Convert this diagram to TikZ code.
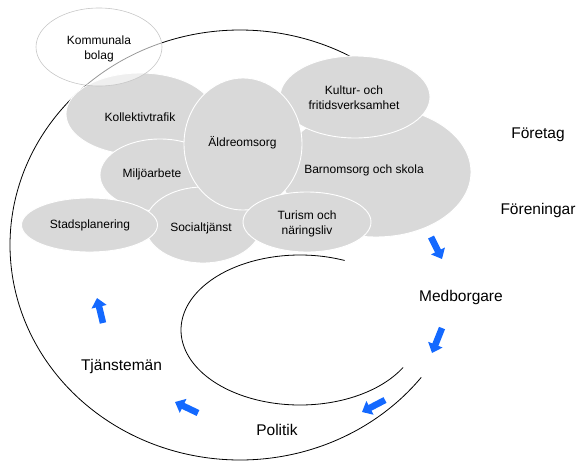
\documentclass[tikz,border=0pt]{standalone}
\usepackage{fontspec}
\setmainfont{Liberation Sans}
\usetikzlibrary{arrows.meta}
\definecolor{blobgray}{HTML}{D9D9D9}
\definecolor{arrowblue}{HTML}{1469FF}
\tikzset{
  blob/.style={ellipse-ish},
  ellipse-ish/.style={fill=blobgray, draw=white, line width=0.9pt},
  smalltext/.style={font=\fontsize{12}{15}\selectfont, align=center, inner sep=0pt},
  bigtext/.style={font=\fontsize{15.5}{18}\selectfont, inner sep=0pt},
  blockarrow/.style={draw=arrowblue, line width=6.5pt, -{Triangle[length=9pt,width=15pt]}},
  spiral/.style={draw=black, line width=0.8pt}
}
\begin{document}
\begin{tikzpicture}[x=1pt,y=-1pt]
\useasboundingbox (0,0) rectangle (578,461);
% spiral curves
\draw[spiral] plot[domain=38:318, samples=160, smooth] ({240+230*cos(\x)}, {245+215*sin(\x)});
\draw[spiral] plot[domain=30:292, samples=120, smooth] ({300+119*cos(\x)}, {330+75*sin(\x)});
% grey ellipses
\draw[blob] (376,172) ellipse [x radius=95, y radius=65];
\draw[blob] (355,97) ellipse [x radius=75, y radius=41];
\draw[blob] (140,114) ellipse [x radius=74, y radius=41];
\draw[blob] (160,175) ellipse [x radius=60, y radius=36];
\draw[blob] (203,225) ellipse [x radius=58, y radius=38];
\draw[blob] (89.5,225) ellipse [x radius=68, y radius=27];
\draw[blob] (243,144) ellipse [x radius=59, y radius=66];
\draw[blob] (307,222) ellipse [x radius=64, y radius=30];
\draw[draw=black!22, fill=white, fill opacity=0.6, line width=0.6pt] (99,47) ellipse [x radius=63, y radius=39];
% small labels
\node[smalltext] (kom) at (99,49) {Kommunala\\bolag};
\node[smalltext] (kol) at (140,117) {Kollektivtrafik};
\node[smalltext] (ald) at (242.5,143) {Äldreomsorg};
\node[smalltext] (mil) at (152,174) {Miljöarbete};
\node[smalltext] (sta) at (90,225) {Stadsplanering};
\node[smalltext] (soc) at (201,228) {Socialtjänst};
\node[smalltext] (tur) at (307,224) {Turism och\\näringsliv};
\node[smalltext] (kul) at (354,98) {Kultur- och\\fritidsverksamhet};
\node[smalltext] (bar) at (364,170) {Barnomsorg och skola};
% big labels
\node[bigtext] (for) at (538,135) {Företag};
\node[bigtext] (fen) at (538,210) {Föreningar};
\node[bigtext] (med) at (461,297) {Medborgare};
\node[bigtext] (tja) at (121.5,366) {Tjänstemän};
\node[bigtext] (pol) at (277,430) {Politik};
% arrows
\coordinate (a1s) at (431,237); \coordinate (a1e) at (442,259);
\coordinate (a2s) at (442,328); \coordinate (a2e) at (432,353);
\coordinate (a3s) at (385,400); \coordinate (a3e) at (362,412);
\coordinate (a4s) at (198,413); \coordinate (a4e) at (175,402);
\coordinate (a5s) at (103,323); \coordinate (a5e) at (97,298);
\draw[blockarrow] (a1s) -- (a1e);
\draw[blockarrow] (a2s) -- (a2e);
\draw[blockarrow] (a3s) -- (a3e);
\draw[blockarrow] (a4s) -- (a4e);
\draw[blockarrow] (a5s) -- (a5e);
\end{tikzpicture}
\end{document}
